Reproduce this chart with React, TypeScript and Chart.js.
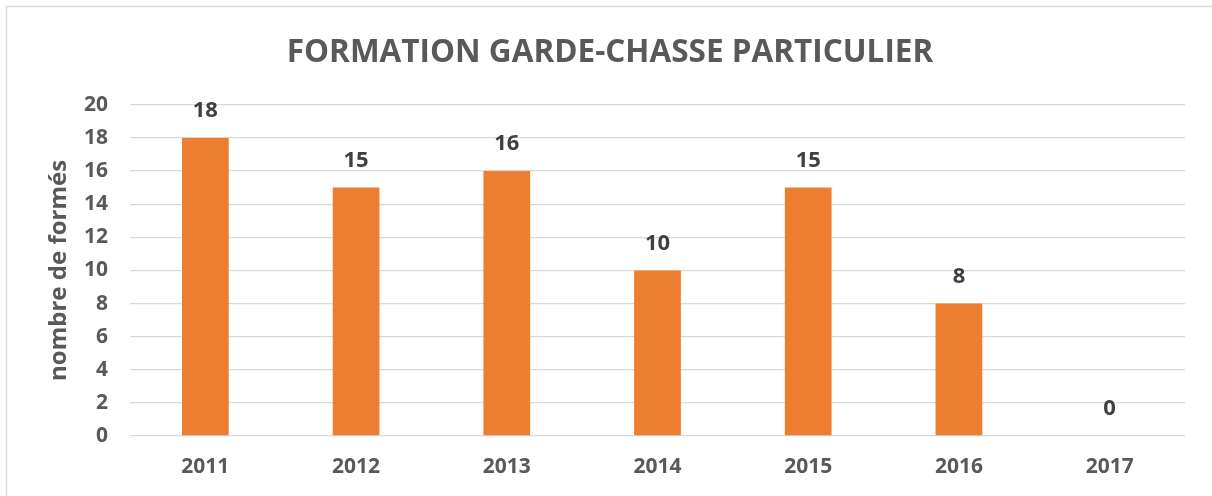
import React, { useEffect, useRef } from "react";
import { Chart, registerables } from "chart.js";

Chart.register(...registerables);

const years = ["2011", "2012", "2013", "2014", "2015", "2016", "2017"];
const formes = [18, 15, 16, 10, 15, 8, 0];
const chartTitle = "FORMATION GARDE-CHASSE PARTICULIER";
const yTitle = "nombre de formés";

const FONT = "'Open Sans', 'Liberation Sans', sans-serif";

const framePlugin = {
  id: "frame",
  beforeDraw(chart: any) {
    const ctx = chart.ctx;
    ctx.save();
    ctx.fillStyle = "#ffffff";
    ctx.fillRect(0, 0, chart.width, chart.height);
    ctx.strokeStyle = "#d9d9d9";
    ctx.lineWidth = 1.5;
    ctx.strokeRect(6.5, 6.5, 1400, 700);
    ctx.restore();
  },
};

const labelPlugin = {
  id: "barLabels",
  afterDatasetsDraw(chart: any) {
    const ctx = chart.ctx;
    const meta = chart.getDatasetMeta(0);
    ctx.save();
    ctx.font = `bold 22px ${FONT}`;
    ctx.fillStyle = "#404040";
    ctx.textAlign = "center";
    ctx.textBaseline = "middle";
    meta.data.forEach((el: any, i: number) => {
      ctx.fillText(String(chart.data.datasets[0].data[i]), el.x, el.y - 27);
    });
    ctx.restore();
  },
};

export default function App() {
  const ref = useRef<HTMLCanvasElement>(null);
  useEffect(() => {
    if (!ref.current) return;
    const chart = new Chart(ref.current, {
      type: "bar",
      data: {
        labels: years,
        datasets: [
          {
            data: formes,
            backgroundColor: "#ED7D31",
            categoryPercentage: 1,
            barPercentage: 0.31,
          },
        ],
      },
      options: {
        animation: false,
        responsive: false,
        layout: { padding: { top: 34, left: 35, right: 27, bottom: 0 } },
        plugins: {
          legend: { display: false },
          tooltip: { enabled: false },
          title: {
            display: true,
            text: chartTitle,
            color: "#595959",
            font: { family: FONT, size: 31.5, weight: "bold", lineHeight: 1.2 },
            padding: { top: 0, bottom: 33 },
          },
        },
        scales: {
          x: {
            grid: { display: false, drawTicks: false },
            border: { display: false },
            ticks: {
              color: "#595959",
              font: { family: FONT, size: 21, weight: "bold", lineHeight: 1.2 },
              padding: 18,
            },
            afterFit(scale: any) {
              scale.height = 60;
            },
          },
          y: {
            min: 0,
            max: 20,
            ticks: {
              stepSize: 2,
              color: "#595959",
              font: { family: FONT, size: 21, weight: "bold", lineHeight: 1.2 },
              padding: 22,
            },
            grid: { color: "#d9d9d9", lineWidth: 1.3, drawTicks: false },
            border: { display: false },
            title: {
              display: true,
              text: yTitle,
              color: "#595959",
              font: { family: FONT, size: 24, weight: "bold", lineHeight: 1.2 },
              padding: { top: 10, bottom: 0 },
            },
            afterFit(scale: any) {
              scale.width = 95;
            },
          },
        },
      },
      plugins: [framePlugin, labelPlugin],
    });
    return () => chart.destroy();
  }, []);
  return (
    <div style={{ position: "absolute", left: 0, top: 0, width: 1212, height: 496 }}>
      <canvas ref={ref} width={1212} height={496} style={{ display: "block" }} />
    </div>
  );
}
